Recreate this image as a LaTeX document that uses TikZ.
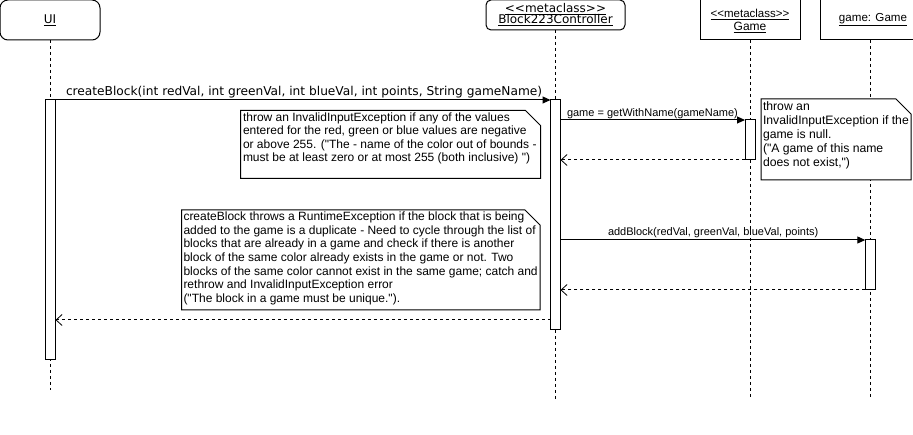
\documentclass[tikz,border=0pt]{standalone}
\usepackage{fontspec}
\setmainfont{Liberation Sans}[Ligatures=TeXOff]
\newfontfamily\dv{DejaVu Sans}[Ligatures=TeXOff]
\usetikzlibrary{arrows.meta}
\begin{document}
\begin{tikzpicture}[x=1pt,y=-1pt,
  every node/.style={inner sep=0pt,outer sep=0pt},
  head/.style={draw,line width=1pt,align=center,fill=white},
  life/.style={line width=1pt,dash pattern=on 3pt off 3pt},
  act/.style={draw,line width=1pt,fill=white,minimum width=10pt},
  msg/.style={line width=1pt,-{Triangle[length=8pt,width=7pt]}},
  ret/.style={line width=1pt,dash pattern=on 3pt off 3pt,-{Straight Barb[length=6pt,width=11pt,line width=0.8pt]}},
  noteline/.style={line width=1pt,fill=white},
  notebg/.style={minimum width=#1},
  notetext/.style={anchor=north west,align=left,font=\fontsize{12}{13.6}\selectfont},
  mlabel/.style={font=\fontsize{11}{13}\selectfont}
]
\useasboundingbox (0,0) rectangle (913,435);

% heads
\node[head,rounded corners=8pt,minimum width=100pt,minimum height=40pt] (ui) at (50,20) {\dv\fontsize{12}{14}\selectfont\underline{UI}};
\node[head,rounded corners=5pt,minimum width=139pt,minimum height=30pt] (ctl) at (555.5,15) {\dv\fontsize{12}{13.5}\selectfont\underline{<<metaclass>>}\\[-1pt]\dv\fontsize{12}{13.5}\selectfont\underline{Block223Controller}};
\node[head,minimum width=100pt,minimum height=40pt,text depth=0pt] (gm) at (750,20) {\raisebox{-2pt}{\fontsize{11.5}{12}\selectfont\underline{<<metaclass>>}}\\[1pt]\fontsize{12}{14}\selectfont\underline{Game}};
\node[head,minimum width=106pt,minimum height=40pt] (go) at (873,20) {\fontsize{11.6}{14}\selectfont\underline{game: Game}};

% lifeline ends
\coordinate (uiend) at (50,390);
\coordinate (ctlend) at (555.5,399);
\coordinate (gmend) at (750,399);
\coordinate (goend) at (870,399);
\draw[life] (ui.south) -- (uiend);
\draw[life] (ctl.south) -- (ctlend);
\draw[life] (gm.south) -- (gmend);
\draw[life] (go.south -| goend) -- (goend);

% activations
\node[act,minimum height=260pt] (uiact) at (50.5,230) {};
\node[act,minimum height=230pt] (ctlact) at (555.5,215) {};
\node[act,minimum height=40pt] (gmact) at (750,140) {};
\node[act,minimum height=50pt] (goact) at (870.3,265) {};

% messages
\draw[msg] (uiact.north east) -- (ctlact.north west);
\node[anchor=base west,font=\dv\fontsize{12.2}{13}\selectfont] (m1) at (66,95.5) {createBlock(int redVal, int greenVal, int blueVal, int points, String gameName)};

\draw[msg] (ctlact.east |- gmact.north) -- (gmact.north west);
\node[anchor=base west,mlabel] (m2) at (567,117) {game = getWithName(gameName)};
\draw[ret] (gmact.south west) -- (ctlact.east |- gmact.south);

\draw[msg] (ctlact.east |- goact.north) -- (goact.north west);
\node[anchor=base west,mlabel] (m3) at (608,236) {addBlock(redVal, greenVal, blueVal, points)};
\draw[ret] (goact.south west) -- (ctlact.east |- goact.south);

\coordinate (r3) at (550.5,320);
\draw[ret] (r3) -- (uiact.east |- r3);

% notes
\node[notebg=300pt,minimum height=68pt,anchor=north west] (n1) at (240.5,110.5) {};
\draw[noteline] (n1.north west) -- ([xshift=-15pt]n1.north east) -- ([yshift=-15pt]n1.north east) -- (n1.south east) -- (n1.south west) -- cycle;
\node[notetext] (t1) at ([xshift=2.5pt,yshift=-2pt]n1.north west) {throw an InvalidInputException if any of the values\\entered for the red, green or blue values are negative\\or above 255. ("The - name of the color out of bounds -\\must be at least zero or at most 255 (both inclusive) ")};

\node[notebg=358.5pt,minimum height=100pt,anchor=north west] (n2) at (181.5,210) {};
\draw[noteline] (n2.north west) -- ([xshift=-15pt]n2.north east) -- ([yshift=-15pt]n2.north east) -- (n2.south east) -- (n2.south west) -- cycle;
\node[notetext] (t2) at ([xshift=2pt,yshift=-2pt]n2.north west) {createBlock throws a RuntimeException if the block that is being\\added to the game is a duplicate - Need to cycle through the list of\\blocks that are already in a game and check if there is another\\block of the same color already exists in the game or not. Two\\blocks of the same color cannot exist in the same game; catch and\\rethrow and InvalidInputException error\\("The block in a game must be unique.").};

\node[notebg=150pt,minimum height=81pt,anchor=north west] (n3) at (761,99) {};
\draw[noteline] (n3.north west) -- ([xshift=-15pt]n3.north east) -- ([yshift=-15pt]n3.north east) -- (n3.south east) -- (n3.south west) -- cycle;
\node[notetext,font=\fontsize{12.2}{14}\selectfont] (t3) at ([xshift=2pt,yshift=-3pt]n3.north west) {throw an\\InvalidInputException if the\\game is null.\\("A game of this name\\does not exist,")};
\end{tikzpicture}
\end{document}
